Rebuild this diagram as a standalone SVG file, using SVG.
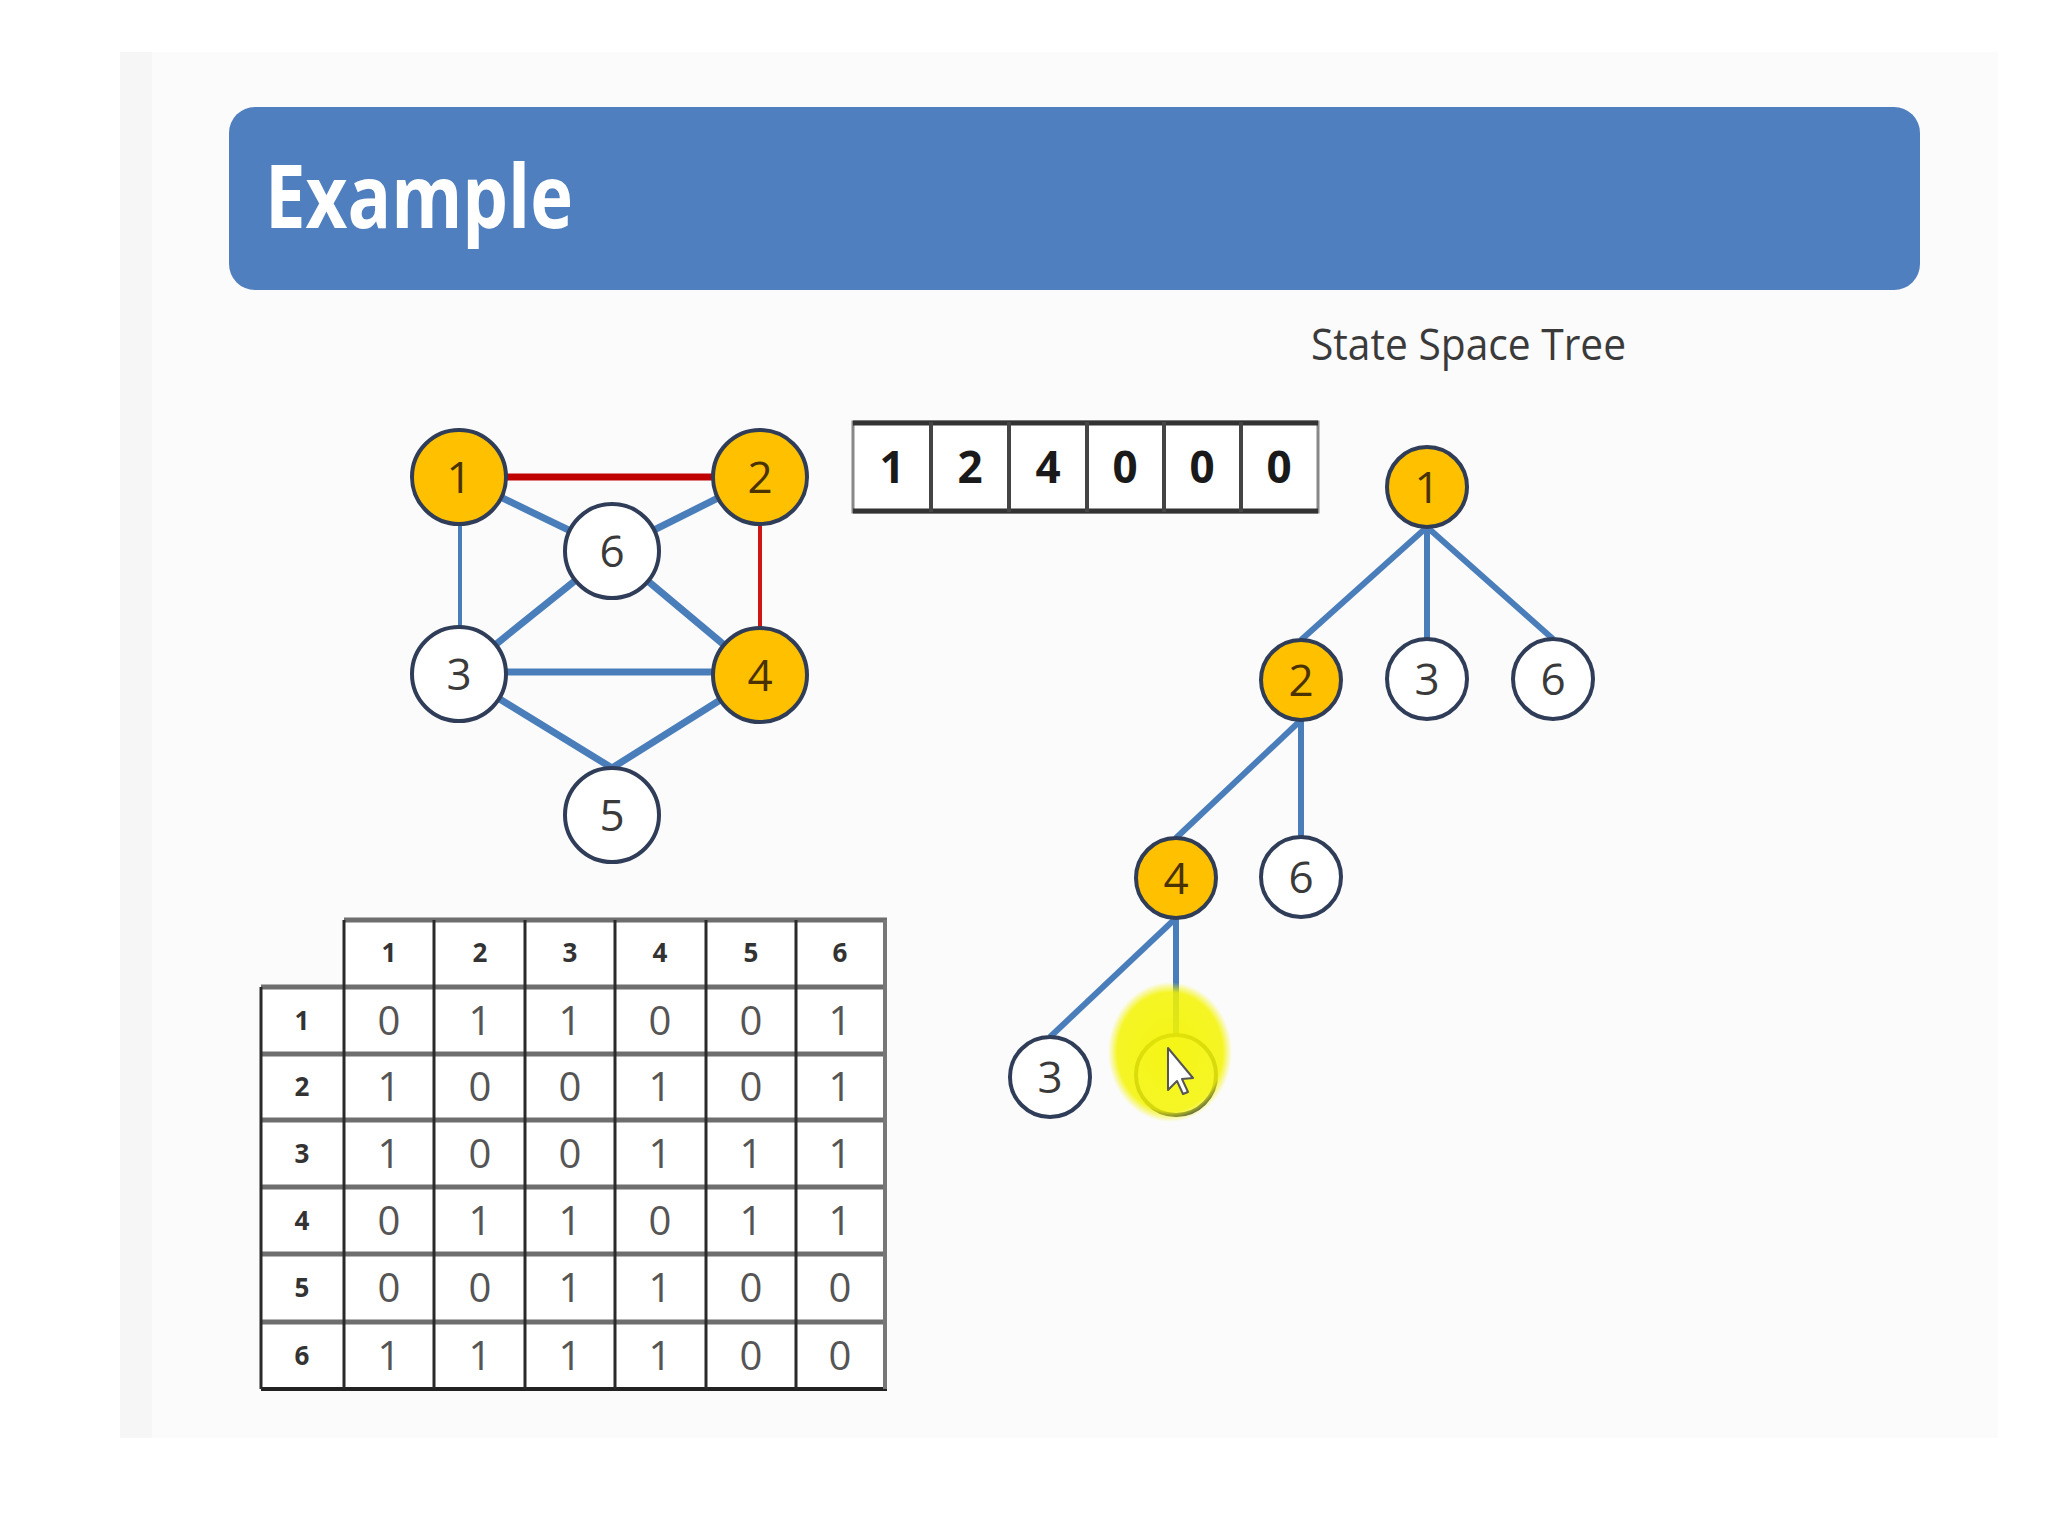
<svg xmlns="http://www.w3.org/2000/svg" width="2048" height="1536" viewBox="0 0 2048 1536">
<defs>
<style>
.gn{stroke:#2f3d58;stroke-width:4}
.w{fill:#ffffff}
.y{fill:#ffc000}
.lbl{font-family:"Open Sans","Noto Sans",sans-serif;font-size:44px;text-anchor:middle}
.lw{fill:#3a3a3a}
.ly{fill:#4a3300}
.be{stroke:#4a7ebb;stroke-width:7;fill:none}
.te{stroke:#4a7ebb;stroke-width:6;fill:none}
.arr{font-family:"Open Sans","Noto Sans",sans-serif;font-size:44px;font-weight:bold;text-anchor:middle;fill:#1a1a1a}
.th{font-family:"Open Sans","Noto Sans",sans-serif;font-size:26px;font-weight:bold;text-anchor:middle;fill:#333}
.tb{font-family:"Open Sans","Noto Sans",sans-serif;font-size:40px;text-anchor:middle;fill:#555}
.hl{stroke:#6e6e6e;stroke-width:5}
.vl{stroke:#2a2a2a;stroke-width:3}
</style>
<radialGradient id="glow" cx="0.5" cy="0.5" r="0.5">
<stop offset="0" stop-color="#f4f400" stop-opacity="0.92"/>
<stop offset="0.85" stop-color="#f4f400" stop-opacity="0.85"/>
<stop offset="1" stop-color="#f4f400" stop-opacity="0"/>
</radialGradient>
</defs>
<rect x="0" y="0" width="2048" height="1536" fill="#ffffff"/>
<rect x="120" y="52" width="1878" height="1386" fill="#fbfbfb"/>
<rect x="120" y="52" width="32" height="1386" fill="#f6f6f6"/>

<g id="header">
<rect x="229" y="107" width="1691" height="183" rx="26" ry="26" fill="#4f7fbe"/>
<text x="265" y="228" font-family="'Open Sans','Noto Sans',sans-serif" font-size="88" font-weight="bold" fill="#ffffff" textLength="308" lengthAdjust="spacingAndGlyphs">Example</text>
</g>

<g id="title-tree">
<text x="1311" y="360" font-family="'Open Sans','Noto Sans',sans-serif" font-size="44" fill="#3a3a3a" textLength="315" lengthAdjust="spacingAndGlyphs">State Space Tree</text>
</g>

<!-- graph connectors -->
<g id="graph-edges">
<line x1="459" y1="477" x2="760" y2="477" stroke="#c00000" stroke-width="7"/>
<line x1="760" y1="477" x2="760" y2="675" stroke="#d01515" stroke-width="4"/>
<line x1="460" y1="477" x2="460" y2="674" stroke="#4a7ebb" stroke-width="4"/>
<line class="be" x1="459" y1="477" x2="612" y2="551"/>
<line class="be" x1="760" y1="477" x2="612" y2="551"/>
<line class="be" x1="612" y1="551" x2="459" y2="674"/>
<line class="be" x1="612" y1="551" x2="760" y2="675"/>
<line class="be" x1="459" y1="672" x2="760" y2="672"/>
<line class="be" x1="459" y1="674" x2="612" y2="768"/>
<line class="be" x1="760" y1="675" x2="612" y2="768"/>
</g>

<g id="g1"><circle class="gn y" cx="459" cy="477" r="47"/><text class="lbl ly" x="459" y="493">1</text></g>
<g id="g2"><circle class="gn y" cx="760" cy="477" r="47"/><text class="lbl ly" x="760" y="493">2</text></g>
<g id="g6"><circle class="gn w" cx="612" cy="551" r="47"/><text class="lbl lw" x="612" y="567">6</text></g>
<g id="g3"><circle class="gn w" cx="459" cy="674" r="47"/><text class="lbl lw" x="459" y="690">3</text></g>
<g id="g4"><circle class="gn y" cx="760" cy="675" r="47"/><text class="lbl ly" x="760" y="691">4</text></g>
<g id="g5"><circle class="gn w" cx="612" cy="815" r="47"/><text class="lbl lw" x="612" y="831">5</text></g>

<g id="array">
<rect x="853" y="422" width="465" height="90" fill="#ffffff" stroke="#888" stroke-width="3"/>
<line x1="853" y1="423" x2="1318" y2="423" stroke="#333" stroke-width="5"/>
<line x1="853" y1="511" x2="1318" y2="511" stroke="#333" stroke-width="5"/>
<g stroke="#444" stroke-width="4">
<line x1="931" y1="422" x2="931" y2="512"/>
<line x1="1009" y1="422" x2="1009" y2="512"/>
<line x1="1087" y1="422" x2="1087" y2="512"/>
<line x1="1164" y1="422" x2="1164" y2="512"/>
<line x1="1241" y1="422" x2="1241" y2="512"/>
</g>
<text class="arr" x="892" y="483">1</text>
<text class="arr" x="970" y="483">2</text>
<text class="arr" x="1048" y="483">4</text>
<text class="arr" x="1125" y="483">0</text>
<text class="arr" x="1202" y="483">0</text>
<text class="arr" x="1279" y="483">0</text>
</g>

<!-- tree connectors -->
<g id="tree-edges">
<line class="te" x1="1427" y1="527" x2="1301" y2="640"/>
<line class="te" x1="1427" y1="527" x2="1427" y2="639"/>
<line class="te" x1="1427" y1="527" x2="1553" y2="639"/>
<line class="te" x1="1301" y1="720" x2="1176" y2="838"/>
<line class="te" x1="1301" y1="720" x2="1301" y2="836"/>
<line class="te" x1="1176" y1="918" x2="1050" y2="1037"/>
<line class="te" x1="1176" y1="918" x2="1176" y2="1035"/>
</g>

<g id="t1"><circle class="gn y" cx="1427" cy="487" r="40"/><text class="lbl ly" x="1427" y="503">1</text></g>
<g id="t2"><circle class="gn y" cx="1301" cy="680" r="40"/><text class="lbl ly" x="1301" y="696">2</text></g>
<g id="t3"><circle class="gn w" cx="1427" cy="679" r="40"/><text class="lbl lw" x="1427" y="695">3</text></g>
<g id="t6"><circle class="gn w" cx="1553" cy="679" r="40"/><text class="lbl lw" x="1553" y="695">6</text></g>
<g id="t4"><circle class="gn y" cx="1176" cy="878" r="40"/><text class="lbl ly" x="1176" y="894">4</text></g>
<g id="t6b"><circle class="gn w" cx="1301" cy="877" r="40"/><text class="lbl lw" x="1301" y="893">6</text></g>
<g id="t3b"><circle class="gn w" cx="1050" cy="1077" r="40"/><text class="lbl lw" x="1050" y="1093">3</text></g>
<g id="t5"><circle class="gn w" cx="1176" cy="1075" r="40"/></g>

<g id="highlight">
<ellipse cx="1170" cy="1052" rx="62" ry="70" fill="url(#glow)"/>
<path d="M1168,1048 L1168,1090 L1177,1081 L1183,1094 L1188,1092 L1182,1079 L1193,1078 Z" fill="#ffffff" stroke="#555" stroke-width="2" stroke-linejoin="round"/>
</g>

<g id="matrix">
<rect x="344" y="920" width="541" height="469" fill="#ffffff"/>
<rect x="261" y="987" width="83" height="402" fill="#ffffff"/>
<g class="hl">
<line x1="344" y1="920" x2="887" y2="920"/>
<line x1="261" y1="987" x2="887" y2="987"/>
<line x1="261" y1="1054" x2="887" y2="1054"/>
<line x1="261" y1="1120" x2="887" y2="1120"/>
<line x1="261" y1="1187" x2="887" y2="1187"/>
<line x1="261" y1="1254" x2="887" y2="1254"/>
<line x1="261" y1="1322" x2="887" y2="1322"/>
</g>
<line x1="261" y1="1389" x2="887" y2="1389" stroke="#222" stroke-width="4"/>
<g class="vl">
<line x1="261" y1="987" x2="261" y2="1389"/>
<line x1="344" y1="920" x2="344" y2="1389"/>
<line x1="434" y1="920" x2="434" y2="1389"/>
<line x1="525" y1="920" x2="525" y2="1389"/>
<line x1="615" y1="920" x2="615" y2="1389"/>
<line x1="706" y1="920" x2="706" y2="1389"/>
<line x1="796" y1="920" x2="796" y2="1389"/>
</g>
<line x1="885" y1="920" x2="885" y2="1389" stroke="#777" stroke-width="4"/>
<text class="th" x="389" y="962">1</text><text class="th" x="480" y="962">2</text><text class="th" x="570" y="962">3</text><text class="th" x="660" y="962">4</text><text class="th" x="751" y="962">5</text><text class="th" x="840" y="962">6</text>
<text class="th" x="302" y="1030">1</text><text class="th" x="302" y="1096">2</text><text class="th" x="302" y="1163">3</text><text class="th" x="302" y="1230">4</text><text class="th" x="302" y="1297">5</text><text class="th" x="302" y="1365">6</text>
<text class="tb" x="389" y="1035">0</text><text class="tb" x="480" y="1035">1</text><text class="tb" x="570" y="1035">1</text><text class="tb" x="660" y="1035">0</text><text class="tb" x="751" y="1035">0</text><text class="tb" x="840" y="1035">1</text>
<text class="tb" x="389" y="1101">1</text><text class="tb" x="480" y="1101">0</text><text class="tb" x="570" y="1101">0</text><text class="tb" x="660" y="1101">1</text><text class="tb" x="751" y="1101">0</text><text class="tb" x="840" y="1101">1</text>
<text class="tb" x="389" y="1168">1</text><text class="tb" x="480" y="1168">0</text><text class="tb" x="570" y="1168">0</text><text class="tb" x="660" y="1168">1</text><text class="tb" x="751" y="1168">1</text><text class="tb" x="840" y="1168">1</text>
<text class="tb" x="389" y="1235">0</text><text class="tb" x="480" y="1235">1</text><text class="tb" x="570" y="1235">1</text><text class="tb" x="660" y="1235">0</text><text class="tb" x="751" y="1235">1</text><text class="tb" x="840" y="1235">1</text>
<text class="tb" x="389" y="1302">0</text><text class="tb" x="480" y="1302">0</text><text class="tb" x="570" y="1302">1</text><text class="tb" x="660" y="1302">1</text><text class="tb" x="751" y="1302">0</text><text class="tb" x="840" y="1302">0</text>
<text class="tb" x="389" y="1370">1</text><text class="tb" x="480" y="1370">1</text><text class="tb" x="570" y="1370">1</text><text class="tb" x="660" y="1370">1</text><text class="tb" x="751" y="1370">0</text><text class="tb" x="840" y="1370">0</text>
</g>
</svg>
